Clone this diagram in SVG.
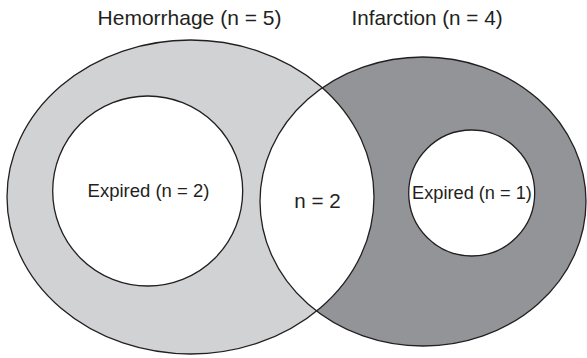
<svg xmlns="http://www.w3.org/2000/svg" width="587" height="358" viewBox="0 0 587 358">
<style>
.ln{stroke:#231f20;stroke-width:1.3;}
.t{font-family:"Liberation Sans",Arial,sans-serif;fill:#231f20;text-anchor:middle;}
</style>
<defs>
<clipPath id="clipL"><ellipse cx="190.5" cy="197" rx="183.5" ry="157"/></clipPath>
</defs>
<rect width="587" height="358" fill="#ffffff"/>
<g id="hemorrhage">
<ellipse cx="190.5" cy="197" rx="183.5" ry="157" fill="#d1d2d4"/>
</g>
<g id="infarction">
<ellipse cx="423" cy="201.5" rx="163" ry="144.5" fill="#929497"/>
</g>
<g id="overlap">
<ellipse cx="423" cy="201.5" rx="163" ry="144.5" fill="#ffffff" clip-path="url(#clipL)"/>
<text class="t" x="317.5" y="207.5" font-size="20.6">n = 2</text>
</g>
<g id="outlines" fill="none">
<ellipse class="ln" cx="190.5" cy="197" rx="183.5" ry="157"/>
<ellipse class="ln" cx="423" cy="201.5" rx="163" ry="144.5"/>
</g>
<g id="expired-hemorrhage">
<circle class="ln" cx="147.7" cy="191" r="95" fill="#ffffff"/>
<text class="t" x="148.5" y="197.3" font-size="18.5">Expired (n = 2)</text>
</g>
<g id="expired-infarction">
<circle class="ln" cx="471.7" cy="193" r="63" fill="#ffffff"/>
<text class="t" x="472" y="199" font-size="18.2">Expired (n = 1)</text>
</g>
<g id="labels">
<text class="t" x="189.5" y="25" font-size="21">Hemorrhage (n = 5)</text>
<text class="t" x="427" y="25" font-size="20.7">Infarction (n = 4)</text>
</g>
</svg>
